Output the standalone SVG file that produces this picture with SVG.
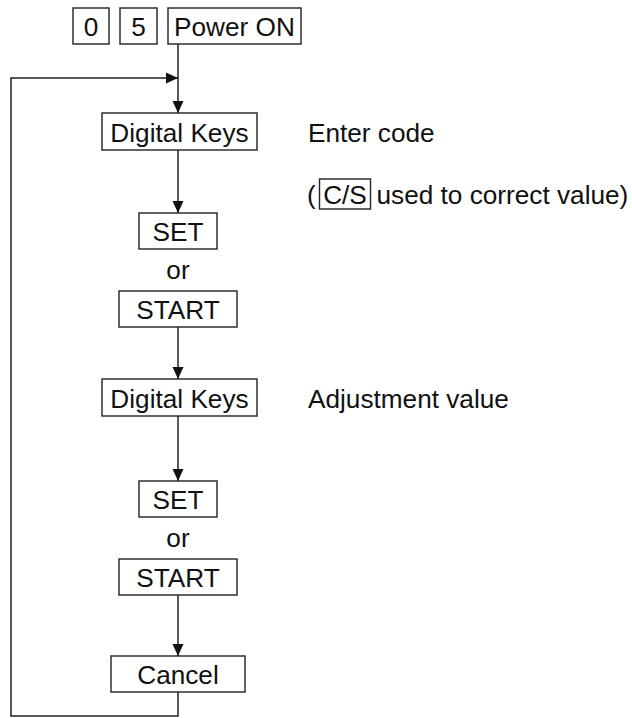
<svg xmlns="http://www.w3.org/2000/svg" width="632" height="718" viewBox="0 0 632 718">
<style>
.b{fill:#fff;stroke:#222;stroke-width:1.4}
.t{font-family:"Liberation Sans",Arial,sans-serif;font-size:26.2px;fill:#111}
.c{text-anchor:middle}
.w{fill:none;stroke:#222;stroke-width:1.5}
</style>
<defs>
<marker id="ah" viewBox="0 0 12 12" refX="12" refY="6" markerWidth="12" markerHeight="12" markerUnits="userSpaceOnUse" orient="auto">
<path d="M0,0.5 L12,6 L0,11.5 Z" fill="#111"/>
</marker>
</defs>
<g id="connectors">
<path class="w" d="M178,44 V113" marker-end="url(#ah)"/>
<path class="w" d="M178,692 V716 H11 V78 H178" marker-end="url(#ah)"/>
<path class="w" d="M178,150 V213" marker-end="url(#ah)"/>
<path class="w" d="M178,327 V379" marker-end="url(#ah)"/>
<path class="w" d="M178,416 V481" marker-end="url(#ah)"/>
<path class="w" d="M178,595 V656" marker-end="url(#ah)"/>
</g>
<g id="key0"><rect class="b" x="73" y="8" width="36" height="36"/><text class="t c" x="91" y="35.5">0</text></g>
<g id="key5"><rect class="b" x="120" y="8" width="37" height="36"/><text class="t c" x="138.5" y="35.5">5</text></g>
<g id="powerOn"><rect class="b" x="168" y="8" width="133" height="36"/><text class="t c" x="234.5" y="35.5">Power ON</text></g>
<g id="digitalKeys1"><rect class="b" x="102" y="113" width="155" height="37"/><text class="t c" x="179.5" y="141.5">Digital Keys</text></g>
<g id="set1"><rect class="b" x="139" y="213" width="78" height="36"/><text class="t c" x="178" y="240.5">SET</text></g>
<g id="or1"><text class="t c" x="178" y="279">or</text></g>
<g id="start1"><rect class="b" x="119" y="291" width="118" height="36"/><text class="t c" x="178" y="318.5">START</text></g>
<g id="digitalKeys2"><rect class="b" x="102" y="379" width="155" height="37"/><text class="t c" x="179.5" y="407.5">Digital Keys</text></g>
<g id="set2"><rect class="b" x="139" y="481" width="78" height="36"/><text class="t c" x="178" y="508.5">SET</text></g>
<g id="or2"><text class="t c" x="178" y="547">or</text></g>
<g id="start2"><rect class="b" x="119" y="559" width="118" height="36"/><text class="t c" x="178" y="586.5">START</text></g>
<g id="cancel"><rect class="b" x="111" y="656" width="134" height="36"/><text class="t c" x="178" y="683.5">Cancel</text></g>
<g id="noteEnterCode"><text class="t" x="308" y="141.5">Enter code</text></g>
<g id="noteCorrect">
<text class="t" x="307" y="203.5">(</text>
<rect class="b" x="319.5" y="179" width="51" height="30"/>
<text class="t c" x="345" y="203.5">C/S</text>
<text class="t" x="376.5" y="203.5">used to correct value)</text>
</g>
<g id="noteAdjust"><text class="t" x="308" y="407.5">Adjustment value</text></g>
</svg>
